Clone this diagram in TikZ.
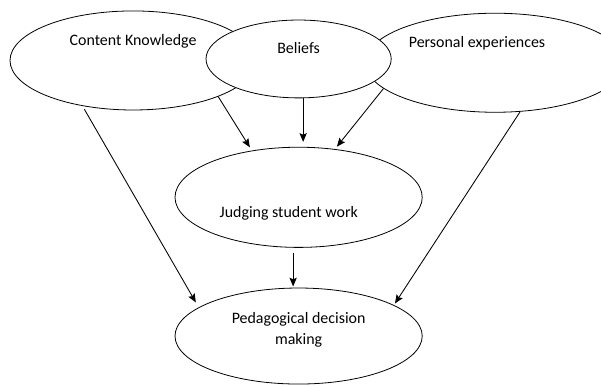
\documentclass[tikz,border=0pt]{standalone}
\usepackage{fontspec}
\setmainfont{Carlito}
\usetikzlibrary{shapes.geometric,arrows.meta}

\begin{document}
\begin{tikzpicture}

%
% Styles
%
\tikzstyle{bubble}  = [ellipse,draw,fill=white,line width=0.6pt,inner sep=0pt]
\tikzstyle{caption} = [font=\fontsize{12}{15.8}\selectfont,align=center,inner sep=0pt]
\tikzstyle{edge}    = [-{Stealth[length=2.3mm,width=1.9mm,inset=0.4mm]},line width=0.65pt]

\useasboundingbox (0,0) rectangle (15.90,10.19);
\clip (0,0) rectangle (15.90,10.19);

\node[bubble,minimum width=6.51cm,minimum height=2.62cm] (ck)  at (3.52,8.59)  {};
\node[bubble,minimum width=6.88cm,minimum height=2.62cm] (pe)  at (13.10,8.53) {};
\node[bubble,minimum width=4.90cm,minimum height=2.06cm] (bel) at (7.90,8.63)  {};
\node[bubble,minimum width=6.54cm,minimum height=2.65cm] (jsw) at (7.90,4.97)  {};
\node[bubble,minimum width=6.54cm,minimum height=2.54cm] (ped) at (7.90,1.30)  {};

\node[caption] (ckt)  at ([yshift=0.50cm]ck.center)                 {Content Knowledge};
\node[caption] (pet)  at ([xshift=-0.48cm,yshift=0.52cm]pe.center)  {Personal experiences};
\node[caption] (belt) at ([yshift=0.30cm]bel.center)                {Beliefs};
\node[caption] (jswt) at ([xshift=-0.26cm,yshift=-0.42cm]jsw.center) {Judging student work};
\node[caption] (pedt) at ([yshift=0.17cm]ped.center)                {Pedagogical decision\\making};

\draw[edge,shorten <=0.1cm,shorten >=0.15cm] (ck.-138) -- (ped.164);
\draw[edge,shorten >=0.1cm] (ck.-23) -- (jsw.135);
\draw[edge,shorten >=0.13cm] ([xshift=0.12cm]bel.south) -- ([xshift=0.12cm]jsw.north);
\draw[edge,shorten >=0.08cm] (pe.-167) -- (jsw.53);
\draw[edge,shorten >=0.05cm] (pe.-63) -- (ped.18);
\draw[edge,shorten <=0.13cm,shorten >=0.03cm] ([xshift=-0.145cm]jsw.south) -- ([xshift=-0.145cm]ped.north);

\end{tikzpicture}
\end{document}
